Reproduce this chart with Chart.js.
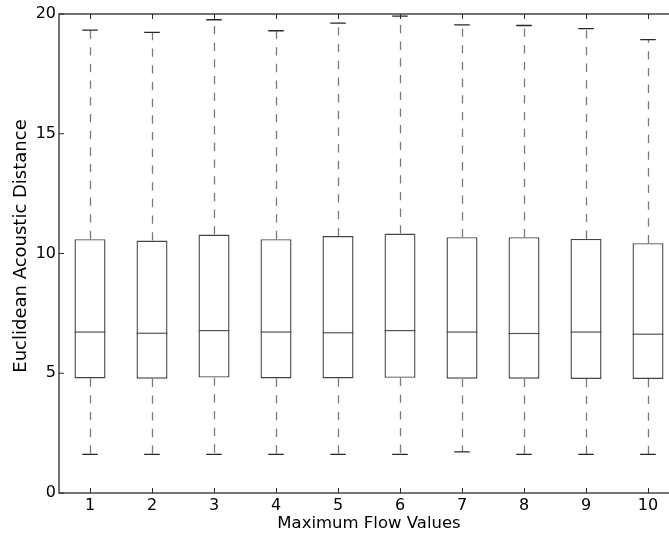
<!DOCTYPE html>
<html>
<head>
<meta charset="utf-8">
<script src="https://cdn.jsdelivr.net/npm/chart.js@4/dist/chart.umd.min.js"></script>
<style>
  html, body { margin: 0; padding: 0; background: #fff; overflow: hidden; }
  #wrap { width: 700px; height: 538px; }
</style>
</head>
<body>
<div id="wrap"><canvas id="c" width="700" height="538"></canvas></div>
<script>
// ---- data ----
const categories = ['1', '2', '3', '4', '5', '6', '7', '8', '9', '10'];
const lowerWhisker = [1.61, 1.61, 1.61, 1.61, 1.61, 1.61, 1.72, 1.61, 1.61, 1.61];
const q1Values     = [4.78, 4.77, 4.82, 4.78, 4.78, 4.81, 4.77, 4.77, 4.76, 4.76];
const medianValues = [6.72, 6.67, 6.78, 6.72, 6.69, 6.78, 6.72, 6.66, 6.72, 6.63];
const q3Values     = [10.60, 10.54, 10.79, 10.60, 10.73, 10.83, 10.68, 10.68, 10.61, 10.43];
const upperWhisker = [19.33, 19.23, 19.76, 19.30, 19.62, 19.91, 19.55, 19.52, 19.39, 18.93];
const yTickValues  = [0, 5, 10, 15, 20];
const xTitle = 'Maximum Flow Values';
const yTitle = 'Euclidean Acoustic Distance';

const FONT = "'DejaVu Sans', sans-serif";

const boxExtras = {
  id: 'boxExtras',
  afterLayout(chart) {
    // move the y-axis title slightly upward, as in the reference
    chart.scales.y.top -= 15;
  },
  afterDatasetsDraw(chart) {
    const ctx = chart.ctx;
    const ys = chart.scales.y;
    const meta = chart.getDatasetMeta(0);
    ctx.save();
    meta.data.forEach((bar, i) => {
      const x = bar.x;
      const w = bar.width;
      const yq1 = ys.getPixelForValue(q1Values[i]);
      const yq3 = ys.getPixelForValue(q3Values[i]);
      const ylo = ys.getPixelForValue(lowerWhisker[i]);
      const yhi = ys.getPixelForValue(upperWhisker[i]);
      const ymed = ys.getPixelForValue(medianValues[i]);
      const xc = Math.round(x) + 0.5;
      // whiskers (dashed)
      ctx.strokeStyle = '#7a7a7a';
      ctx.lineWidth = 1.3;
      ctx.setLineDash([8.3, 8.4]);
      ctx.beginPath();
      ctx.moveTo(xc, yq3); ctx.lineTo(xc, yhi);
      ctx.moveTo(xc, yq1); ctx.lineTo(xc, ylo);
      ctx.stroke();
      ctx.setLineDash([]);
      // caps
      ctx.strokeStyle = '#262626';
      ctx.lineWidth = 1.3;
      ctx.beginPath();
      ctx.moveTo(x - w / 4, yhi); ctx.lineTo(x + w / 4, yhi);
      ctx.moveTo(x - w / 4, ylo); ctx.lineTo(x + w / 4, ylo);
      ctx.stroke();
      // median
      ctx.strokeStyle = '#555555';
      ctx.lineWidth = 1.2;
      ctx.beginPath();
      ctx.moveTo(x - w / 2, ymed); ctx.lineTo(x + w / 2, ymed);
      ctx.stroke();
    });
    ctx.restore();
  },
  afterDraw(chart) {
    const ctx = chart.ctx;
    const a = chart.chartArea;
    const ys = chart.scales.y;
    const xs = chart.scales.x;
    ctx.save();
    ctx.strokeStyle = '#2a2a2a';
    ctx.lineWidth = 1.3;
    ctx.strokeRect(a.left, a.top, a.right - a.left, a.bottom - a.top);
    ctx.lineWidth = 1;
    ctx.beginPath();
    const tl = 5;
    yTickValues.forEach(v => {
      const y = ys.getPixelForValue(v);
      ctx.moveTo(a.left, y); ctx.lineTo(a.left + tl, y);
      ctx.moveTo(a.right, y); ctx.lineTo(a.right - tl, y);
    });
    categories.forEach((c, i) => {
      const x = Math.round(xs.getPixelForValue(i)) + 0.5;
      ctx.moveTo(x, a.top); ctx.lineTo(x, a.top + tl);
      ctx.moveTo(x, a.bottom); ctx.lineTo(x, a.bottom - tl);
    });
    ctx.stroke();
    ctx.restore();
  }
};

new Chart(document.getElementById('c'), {
  type: 'bar',
  data: {
    labels: categories,
    datasets: [{
      data: categories.map((c, i) => [q1Values[i], q3Values[i]]),
      backgroundColor: '#ffffff',
      borderColor: '#444444',
      borderWidth: 1.4,
      borderSkipped: false,
      barPercentage: 0.5,
      categoryPercentage: 1.0
    }]
  },
  options: {
    responsive: false,
    animation: false,
    devicePixelRatio: 1,
    layout: { padding: { top: 14, right: 21, left: 0, bottom: 0 } },
    plugins: { legend: { display: false }, tooltip: { enabled: false } },
    scales: {
      x: {
        grid: { display: false, drawTicks: false },
        border: { display: false },
        ticks: { color: '#000', font: { family: FONT, size: 16 }, padding: 3 },
        title: { display: true, text: xTitle, color: '#000', font: { family: FONT, size: 16.5 }, padding: { top: 0, bottom: 4 } },
        afterFit(scale) { scale.height = 45; }
      },
      y: {
        min: 0, max: 20,
        grid: { display: false, drawTicks: false },
        border: { display: false },
        afterBuildTicks(scale) { scale.ticks = yTickValues.map(v => ({ value: v })); },
        ticks: { color: '#000', font: { family: FONT, size: 16 }, padding: 3 },
        title: { display: true, text: yTitle, color: '#000', font: { family: FONT, size: 18 }, padding: { top: 11, bottom: 0 } },
        afterFit(scale) { scale.width = 59; }
      }
    }
  },
  plugins: [boxExtras]
});
</script>
</body>
</html>
